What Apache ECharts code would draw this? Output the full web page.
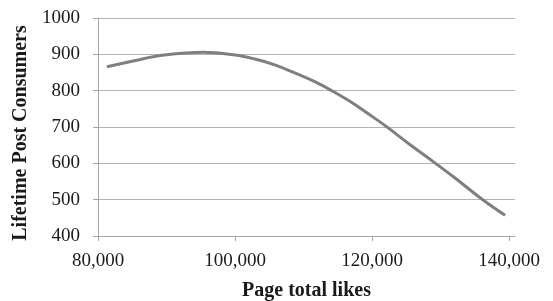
<!DOCTYPE html>
<html><head><meta charset="utf-8">
<script src="https://cdn.jsdelivr.net/npm/echarts@6/dist/echarts.min.js"></script>
<style>html,body{margin:0;padding:0;background:#fff}#c{width:553px;height:301px}</style>
</head><body><div id="c"></div>
<script>
const likes = [81300, 86200, 89100, 95300, 100000, 102900, 105800, 108800, 111700, 114100, 116800, 119700, 122100, 125500, 128400, 132000, 136200, 139400];
const consumers = [866, 886, 897, 905.5, 898, 887, 871, 848, 824, 800, 770, 733, 701, 652, 612, 561, 499, 457];
const xTicks = [80000, 100000, 120000, 140000];
const yTicks = [400, 500, 600, 700, 800, 900, 1000];

const chart = echarts.init(document.getElementById('c'), null, {renderer: 'canvas'});
const fmt = v => v.toString().replace(/\B(?=(\d{3})+(?!\d))/g, ',');
chart.setOption({
  animation: false,
  grid: {left: 98, right: 38, top: 18, bottom: 65, containLabel: false, outerBoundsMode: 'none'},
  xAxis: {
    type: 'value', min: 80000, max: 140850,
    name: 'Page total likes', nameLocation: 'middle', nameGap: 45,
    nameTextStyle: {fontFamily: 'Liberation Serif', fontWeight: 'bold', fontSize: 20, color: '#1a1a1a'},
    axisLine: {show: true, lineStyle: {color: '#a6a6a6', width: 1}},
    axisTick: {show: true, length: 5, lineStyle: {color: '#a6a6a6'}, customValues: xTicks},
    axisLabel: {customValues: xTicks, formatter: fmt, margin: 16, fontFamily: 'Liberation Serif', fontSize: 19, color: '#1a1a1a'},
    splitLine: {show: false}
  },
  yAxis: {
    type: 'value', min: 400, max: 1000, interval: 100,
    name: 'Lifetime Post Consumers', nameLocation: 'middle', nameGap: 65,
    nameTextStyle: {fontFamily: 'Liberation Serif', fontWeight: 'bold', fontSize: 20, color: '#1a1a1a', padding: [0, 12, 0, 0]},
    axisLine: {show: true, lineStyle: {color: '#a6a6a6', width: 1}},
    axisTick: {show: true, length: 5, lineStyle: {color: '#a6a6a6'}},
    axisLabel: {margin: 18, formatter: v => String(v), fontFamily: 'Liberation Serif', fontSize: 19, color: '#1a1a1a'},
    splitLine: {show: true, lineStyle: {color: '#b3b3b3', width: 1}}
  },
  series: [{
    type: 'line', smooth: 0.4, showSymbol: false,
    data: likes.map((x, i) => [x, consumers[i]]),
    lineStyle: {color: '#7f7f7f', width: 3}
  }]
});
</script></body></html>
